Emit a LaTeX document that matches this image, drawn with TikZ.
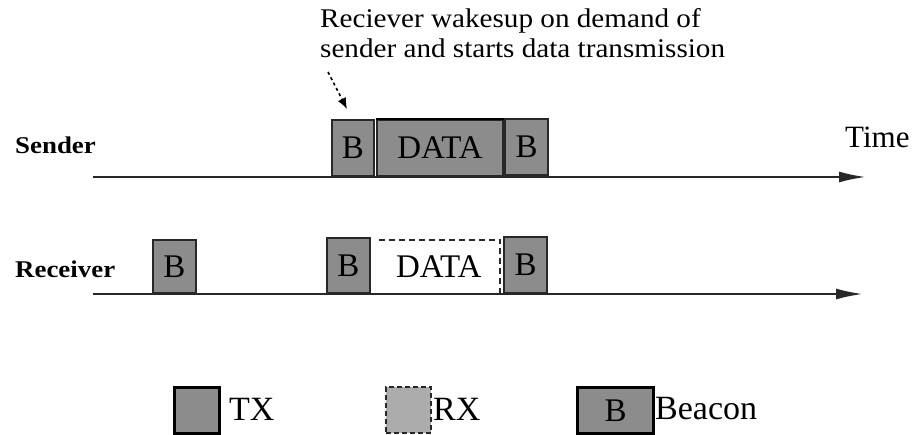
\documentclass[tikz,border=0pt]{standalone}
\usepackage{fontspec}
\setmainfont{Liberation Serif}
\newfontfamily\notefont[FakeStretch=1.08]{Liberation Serif}
\newfontfamily\rowfont[FakeStretch=1.12]{Liberation Serif}
\usetikzlibrary{arrows.meta}

\definecolor{boxgray}{RGB}{140,140,140}
\definecolor{rxgray}{RGB}{172,172,172}
\definecolor{edge}{RGB}{40,40,40}

\tikzset{
  txbox/.style={draw=edge, line width=2pt, fill=boxgray, inner sep=0pt,
    minimum height=56pt, anchor=south west, font=\fontsize{33}{33}\selectfont},
  rxlabel/.style={inner sep=0pt, minimum height=54pt, anchor=south west,
    font=\fontsize{33}{33}\selectfont},
  rxedge/.style={draw=edge, line width=2pt, dash pattern=on 6pt off 4pt},
  timeaxis/.style={draw=edge, line width=2.2pt, -{Latex[length=27pt,width=11pt]}},
  rowlabel/.style={anchor=base west, inner sep=0pt,
    font=\rowfont\bfseries\fontsize{24}{24}\selectfont},
  legendtext/.style={anchor=west, inner sep=0pt, font=\fontsize{34}{34}\selectfont},
  legendbox/.style={minimum width=45pt, minimum height=46pt, inner sep=0pt, anchor=north west},
}

\begin{document}
\begin{tikzpicture}[x=1pt,y=-1pt]
\useasboundingbox (0,0) rectangle (918,434);

% annotation
\node[anchor=north west, inner sep=0pt, align=left,
      font=\notefont\fontsize{27}{30}\selectfont] (note) at (320,8.5)
  {Reciever wakesup on demand of\\sender and starts data transmission};
\coordinate (ntail) at (328,72);
\coordinate (nhead) at (347,109);
\draw[draw=black, line width=1.6pt, dash pattern=on 3pt off 3pt,
      -{Latex[length=11pt,width=9pt]}] (ntail) -- (nhead);

% row labels
\node[rowlabel] (sender) at (15,153) {Sender};
\node[rowlabel] (receiver) at (15,277) {Receiver};
\node[anchor=base west, inner sep=0pt, font=\fontsize{31}{31}\selectfont] (time) at (845,147) {Time};

% time axes
\coordinate (s0) at (93,177);
\coordinate (s1) at (866,177);
\coordinate (r0) at (93,294);
\coordinate (r1) at (863,294);
\draw[timeaxis] (s0) -- (s1);
\draw[timeaxis] (r0) -- (r1);

% sender activity
\node[txbox, minimum width=42pt] (sb1) at (331,177) {B};
\node[txbox, minimum width=126pt] (sdata) at (376,177) {DATA};
\draw[draw=black, line width=2.6pt] (sdata.north west) -- (sdata.north east);
\node[txbox, minimum width=43pt] (sb2) at (504,176) {B};

% receiver activity
\node[txbox, minimum width=43pt, minimum height=53pt] (rb1) at (152,294) {B};
\node[txbox, minimum width=43pt, minimum height=55pt] (rb2) at (326,294) {B};
\node[rxlabel, minimum width=123pt] (rdata) at (377,294) {DATA};
\draw[rxedge] (rdata.south east) -- (rdata.north east) -- (rdata.north west);
\node[txbox, minimum width=43pt, minimum height=56pt] (rb3) at (503,294) {B};

% legend
\node[legendbox, draw=black, line width=3pt, fill=boxgray] (ltx) at (173,386) {};
\node[legendtext] (ltxt) at (229,409) {TX};
\node[legendbox, draw=edge, line width=2.4pt, dash pattern=on 5pt off 3pt, fill=rxgray] (lrx) at (385,386) {};
\node[legendtext] (lrxt) at (433,409) {RX};
\node[legendbox, minimum width=76pt, draw=black, line width=3pt, fill=boxgray,
      font=\fontsize{33}{33}\selectfont] (lbeacon) at (576,386) {B};
\node[legendtext] (lbeacont) at (655,409) {Beacon};
\end{tikzpicture}
\end{document}
